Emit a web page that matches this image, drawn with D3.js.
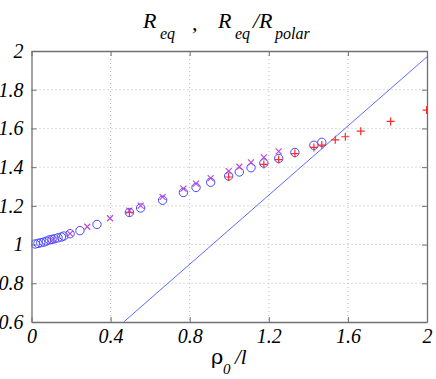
<!DOCTYPE html>
<html>
<head>
<meta charset="utf-8">
<script src="https://cdn.jsdelivr.net/npm/d3@7"></script>
<style>
  body { margin: 0; background: #fff; }
  text { font-family: "Liberation Serif", "Times New Roman", serif; }
</style>
</head>
<body>
<div id="chart"></div>
<script>
// data
var xTicks = [0, 0.4, 0.8, 1.2, 1.6, 2];
var yTicks = [0.6, 0.8, 1, 1.2, 1.4, 1.6, 1.8, 2];

// blue circles
var circX = [0.019, 0.033, 0.047, 0.062, 0.075, 0.090, 0.104, 0.117, 0.134, 0.151, 0.163, 0.195, 0.245, 0.331,
  0.495, 0.552, 0.663, 0.768, 0.832, 0.906, 0.997, 1.051, 1.110, 1.175, 1.250, 1.332, 1.428, 1.468];
var circY = [1.003, 1.006, 1.010, 1.013, 1.018, 1.024, 1.027, 1.030, 1.035, 1.039, 1.044, 1.056, 1.072, 1.104,
  1.166, 1.189, 1.229, 1.269, 1.295, 1.322, 1.354, 1.375, 1.397, 1.421, 1.445, 1.476, 1.513, 1.528];

// red plus
var plusX = [0.495, 0.997, 1.175, 1.250, 1.332, 1.428, 1.468, 1.536, 1.587, 1.665, 1.816, 1.998];
var plusY = [1.166, 1.349, 1.414, 1.439, 1.470, 1.502, 1.514, 1.541, 1.557, 1.586, 1.636, 1.695];

// magenta crosses
var crossX = [0.107, 0.195, 0.282, 0.397, 0.495, 0.552, 0.663, 0.768, 0.832, 0.906, 0.997, 1.051, 1.110, 1.175, 1.250];
var crossY = [1.024, 1.057, 1.092, 1.136, 1.175, 1.201, 1.246, 1.289, 1.315, 1.343, 1.379, 1.402, 1.425, 1.451, 1.482];

// straight blue line
var lineX = [0.466, 2.0];
var lineY = [0.6, 1.97];

var svgWidth = 436;
var svgHeight = 379;
var plotLeft = 31.5, plotRight = 427, plotTop = 51, plotBottom = 322;

var svg = d3.select("#chart").append("svg")
  .attr("width", svgWidth)
  .attr("height", svgHeight);

var x = d3.scaleLinear().domain([0, 2]).range([plotLeft, plotRight]);
var y = d3.scaleLinear().domain([0.6, 2]).range([plotBottom, plotTop]);

svg.append("clipPath").attr("id", "clip")
  .append("rect")
  .attr("x", plotLeft).attr("y", plotTop)
  .attr("width", plotRight - plotLeft).attr("height", plotBottom - plotTop);

// grid
var grid = svg.append("g");
grid.selectAll(".vg").data(xTicks.slice(1, -1)).enter().append("line")
  .attr("x1", d => x(d)).attr("x2", d => x(d))
  .attr("y1", plotTop).attr("y2", plotBottom)
  .attr("stroke", "#b8b8b8").attr("stroke-dasharray", "1,3");
grid.selectAll(".hg").data(yTicks.slice(1, -1)).enter().append("line")
  .attr("y1", d => y(d)).attr("y2", d => y(d))
  .attr("x1", plotLeft).attr("x2", plotRight)
  .attr("stroke", "#b8b8b8").attr("stroke-dasharray", "1,3");

// axes with inward ticks on all four sides
var axisFont = g => g.selectAll("text")
  .attr("font-family", "Liberation Serif, serif")
  .attr("font-style", "italic")
  .attr("font-size", 20)
  .attr("fill", "#000");

var xAxis = svg.append("g")
  .attr("transform", `translate(0, ${plotBottom})`)
  .call(d3.axisBottom(x).tickValues(xTicks).tickFormat(d3.format("")).tickSizeInner(-5).tickSizeOuter(0).tickPadding(9));
xAxis.call(axisFont);
xAxis.selectAll("text").attr("dy", "0.62em");

var yAxis = svg.append("g")
  .attr("transform", `translate(${plotLeft}, 0)`)
  .call(d3.axisLeft(y).tickValues(yTicks).tickFormat(d3.format("")).tickSizeInner(-5).tickSizeOuter(0).tickPadding(8));
yAxis.call(axisFont);

svg.append("g")
  .attr("transform", `translate(0, ${plotTop})`)
  .call(d3.axisTop(x).tickValues(xTicks).tickFormat("").tickSizeInner(-5).tickSizeOuter(0));
svg.append("g")
  .attr("transform", `translate(${plotRight}, 0)`)
  .call(d3.axisRight(y).tickValues(yTicks).tickFormat("").tickSizeInner(-5).tickSizeOuter(0));

svg.selectAll(".domain").attr("stroke", "#707070").attr("stroke-width", 1.3);
svg.selectAll(".tick line").attr("stroke", "#707070");

// marks
var plot = svg.append("g").attr("clip-path", "url(#clip)");

plot.append("path")
  .datum(d3.zip(lineX, lineY))
  .attr("d", d3.line().x(d => x(d[0])).y(d => y(d[1])))
  .attr("fill", "none")
  .attr("stroke", "#5a6cff")
  .attr("stroke-width", 1);

plot.selectAll(".circ").data(d3.zip(circX, circY)).enter().append("circle")
  .attr("cx", d => x(d[0]))
  .attr("cy", d => y(d[1]))
  .attr("r", 4.2)
  .attr("fill", "none")
  .attr("stroke", "#4848ff")
  .attr("stroke-width", 1);

plot.selectAll(".plus").data(d3.zip(plusX, plusY)).enter().append("path")
  .attr("transform", d => `translate(${x(d[0])},${y(d[1])})`)
  .attr("d", "M-4,0H4M0,-4V4")
  .attr("stroke", "#ff2a2a")
  .attr("stroke-width", 1.2);

plot.selectAll(".cross").data(d3.zip(crossX, crossY)).enter().append("path")
  .attr("transform", d => `translate(${x(d[0])},${y(d[1])})`)
  .attr("d", "M-3,-3L3,3M-3,3L3,-3")
  .attr("stroke", "#bb44dd")
  .attr("stroke-width", 1.1);

// title
var title = svg.append("text")
  .attr("font-style", "italic")
  .attr("fill", "#000");
title.append("tspan").attr("x", 143).attr("y", 28).attr("font-size", 22).text("R");
title.append("tspan").attr("x", 160).attr("y", 39).attr("font-size", 16).text("eq");
title.append("tspan").attr("x", 192).attr("y", 30).attr("font-size", 22).text(",");
title.append("tspan").attr("x", 218).attr("y", 28).attr("font-size", 22).text("R");
title.append("tspan").attr("x", 235).attr("y", 39).attr("font-size", 16).text("eq");
title.append("tspan").attr("x", 253).attr("y", 28).attr("font-size", 22).text("/R");
title.append("tspan").attr("x", 275).attr("y", 39).attr("font-size", 16).text("polar");

// x label
var xlabel = svg.append("text").attr("fill", "#000");
xlabel.append("tspan").attr("x", 211).attr("y", 364).attr("font-size", 21).attr("font-family", "DejaVu Serif, serif").text("ρ");
xlabel.append("tspan").attr("x", 223).attr("y", 374).attr("font-size", 15).attr("font-style", "italic").text("0");
xlabel.append("tspan").attr("x", 235).attr("y", 364).attr("font-size", 21).attr("font-style", "italic").text("/l");
</script>
</body>
</html>
